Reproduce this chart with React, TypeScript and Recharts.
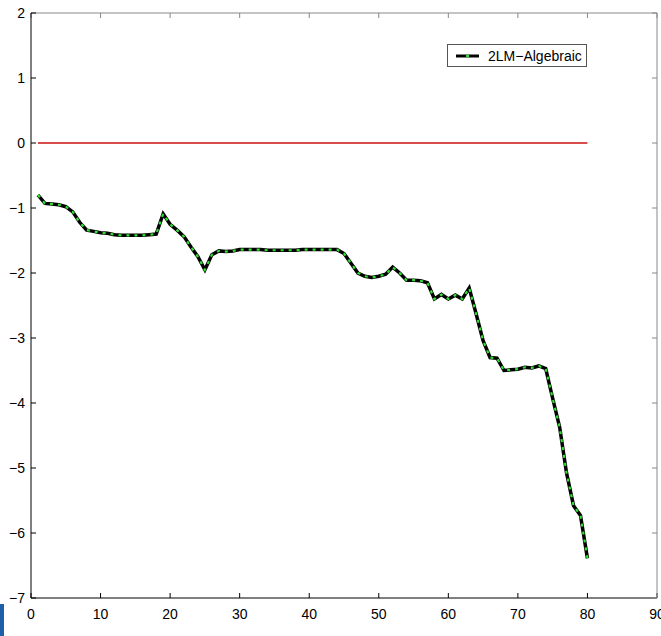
import React from 'react';
import { LineChart, Line, XAxis, YAxis, Legend } from 'recharts';

// iteration index and the algebraic 2LM error curve
const steps = [
  1, 2, 3, 4, 5, 6, 7, 8, 9, 10, 11, 12, 13, 14, 15, 16, 17, 18, 19, 20,
  21, 22, 23, 24, 25, 26, 27, 28, 29, 30, 31, 32, 33, 34, 35, 36, 37, 38, 39, 40,
  41, 42, 43, 44, 45, 46, 47, 48, 49, 50, 51, 52, 53, 54, 55, 56, 57, 58, 59, 60,
  61, 62, 63, 64, 65, 66, 67, 68, 69, 70, 71, 72, 73, 74, 75, 76, 77, 78, 79, 80,
];
const algebraic = [
  -0.8, -0.93, -0.94, -0.95, -0.98, -1.06, -1.22, -1.34, -1.36, -1.38,
  -1.39, -1.41, -1.42, -1.42, -1.42, -1.42, -1.41, -1.4, -1.09, -1.25,
  -1.34, -1.44, -1.6, -1.75, -1.95, -1.72, -1.66, -1.67, -1.66, -1.64,
  -1.64, -1.64, -1.64, -1.65, -1.65, -1.65, -1.65, -1.65, -1.64, -1.64,
  -1.64, -1.64, -1.64, -1.64, -1.7, -1.85, -2.0, -2.05, -2.07, -2.05,
  -2.02, -1.91, -2.0, -2.11, -2.11, -2.12, -2.15, -2.4, -2.33, -2.4,
  -2.34, -2.4, -2.23, -2.63, -3.04, -3.3, -3.31, -3.5, -3.49, -3.48,
  -3.45, -3.46, -3.43, -3.47, -3.93, -4.37, -5.08, -5.58, -5.73, -6.39,
];
const reference = steps.map(() => 0);
const xTicks = [0, 10, 20, 30, 40, 50, 60, 70, 80, 90];
const yTicks = [-7, -6, -5, -4, -3, -2, -1, 0, 1, 2];
const seriesName = '2LM\u2212Algebraic';

const chartData = steps.map((s, i) => ({
  step: s,
  value: algebraic[i],
  zero: reference[i],
}));

const fmt = (v: number) => String(v).replace('-', '\u2212');
const tickFont = { fontSize: 14, fill: '#000', fontFamily: 'Liberation Sans, Arial, sans-serif' };

function LegendBox() {
  return (
    <div
      style={{
        width: 138,
        height: 21,
        border: '1px solid #555',
        background: '#fff',
        display: 'flex',
        alignItems: 'center',
        fontFamily: 'Liberation Sans, Arial, sans-serif',
        fontSize: 14,
        color: '#000',
      }}
    >
      <svg width={40} height={21}>
        <line x1={8} x2={31} y1={11} y2={11} stroke="#000" strokeWidth={3} />
        <line x1={18} x2={21} y1={11} y2={11} stroke="#33dd33" strokeWidth={2} />
      </svg>
      <span>{seriesName}</span>
    </div>
  );
}

export default function App() {
  return (
    <div style={{ position: 'absolute', left: 0, top: 0, width: 661, height: 636, background: '#fff' }}>
      <LineChart
        width={661}
        height={636}
        data={chartData}
        margin={{ top: 12, right: 3, left: 1, bottom: 0 }}
      >
        <XAxis
          dataKey="step"
          type="number"
          domain={[0, 90]}
          ticks={xTicks}
          height={38}
          interval={0}
          stroke="#000"
          tickSize={-5}
          tickMargin={16}
          tick={tickFont}
        />
        <XAxis
          xAxisId="top"
          dataKey="step"
          orientation="top"
          type="number"
          domain={[0, 90]}
          ticks={xTicks}
          height={1}
          interval={0}
          stroke="#888"
          tickSize={-5}
          tickFormatter={() => ''}
        />
        <YAxis
          type="number"
          domain={[-7, 2]}
          ticks={yTicks}
          width={30}
          interval={0}
          stroke="#000"
          tickSize={-5}
          tickMargin={11}
          tick={tickFont}
          tickFormatter={fmt}
        />
        <YAxis
          yAxisId="right"
          orientation="right"
          type="number"
          domain={[-7, 2]}
          ticks={yTicks}
          width={1}
          interval={0}
          stroke="#888"
          tickSize={-5}
          tickFormatter={() => ''}
        />
        <Legend
          layout="vertical"
          align="center"
          verticalAlign="middle"
          wrapperStyle={{ left: 447, top: 44, width: 140 }}
          content={() => <LegendBox />}
        />
        {/* hidden series so the frame axes on top and right get drawn */}
        <Line
          xAxisId="top"
          yAxisId="right"
          dataKey="zero"
          stroke="none"
          dot={false}
          isAnimationActive={false}
          legendType="none"
        />
        <Line
          dataKey="zero"
          stroke="#cc1111"
          strokeWidth={1.5}
          dot={false}
          isAnimationActive={false}
          legendType="none"
        />
        <Line
          dataKey="value"
          stroke="#000"
          strokeWidth={3.5}
          dot={false}
          isAnimationActive={false}
        />
        <Line
          dataKey="value"
          stroke="#33dd33"
          strokeWidth={2.2}
          strokeDasharray="3 5"
          dot={false}
          isAnimationActive={false}
          legendType="none"
        />
      </LineChart>
      <div style={{ position: 'absolute', left: 0, top: 604, width: 4, height: 32, background: '#1f5fa8' }} />
    </div>
  );
}
